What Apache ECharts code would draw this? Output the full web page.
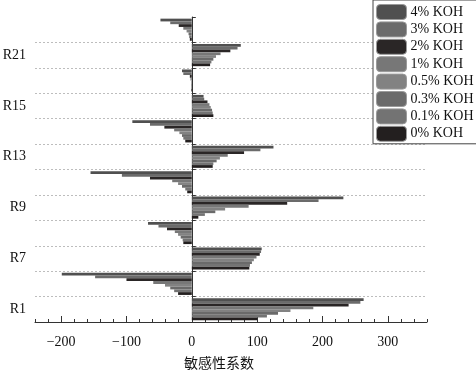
<!DOCTYPE html>
<html><head><meta charset="utf-8">
<script src="https://cdn.jsdelivr.net/npm/echarts@6/dist/echarts.min.js"></script>
<style>html,body{margin:0;padding:0;background:#fff}#c{width:476px;height:370px}</style>
</head><body><div id="c"></div>
<script>
// categories from bottom to top
var categories = ['R1','R2','R7','R8','R9','R10','R13','R14','R15','R16','R21','R22'];
var seriesNames = ['4% KOH','3% KOH','2% KOH','1% KOH','0.5% KOH','0.3% KOH','0.1% KOH','0% KOH'];
var colors = ['#505050','#6b6b6b','#2a2626','#777777','#828282','#6a6a6a','#737373','#231f1f'];
// values per category, in series order (4% ... 0%)
var vR1  = [263, 258, 240, 186, 151, 132, 115, 100];
var vR2  = [-199, -148, -100, -59, -41, -33, -27, -21];
var vR7  = [107, 106, 104, 99, 95, 92, 89, 88];
var vR8  = [-67, -51, -38, -26, -21, -17, -14, -13];
var vR9  = [232, 194, 146, 87, 51, 36, 20, 10];
var vR10 = [-155, -107, -64, -30, -21, -15, -10, -7];
var vR13 = [125, 105, 80, 55, 43, 38, 33, 32];
var vR14 = [-91, -64, -42, -27, -19, -15, -13, -10];
var vR15 = [18, 19, 24, 27, 29, 31, 32, 33];
var vR16 = [-15, -13, -3, -2, -1, -1, -1, -1];
var vR21 = [75, 70, 59, 44, 37, 33, 30, 28];
var vR22 = [-48, -33, -20, -13, -8, -5, -4, -3];
var xTickLabels = [-200, -100, 0, 100, 200, 300];

var table = [vR1, vR2, vR7, vR8, vR9, vR10, vR13, vR14, vR15, vR16, vR21, vR22];
var serif = '"Liberation Serif","Times New Roman",serif';

var series = seriesNames.map(function (name, s) {
  return {
    name: name, type: 'bar', xAxisIndex: 0, yAxisIndex: 0,
    data: table.map(function (row) { return row[s]; }),
    barGap: '0%', barCategoryGap: '13%',
    itemStyle: { color: colors[s] },
    emphasis: { disabled: true }, animation: false
  };
});

var chart = echarts.init(document.getElementById('c'), null, { renderer: 'canvas' });
chart.setOption({
  animation: false,
  grid: { left: 35, right: 49, top: 17, bottom: 48, containLabel: false, outerBoundsMode: 'none' },
  legend: {
    data: seriesNames, orient: 'vertical', left: 373, top: 0,
    itemWidth: 30, itemHeight: 15, itemGap: 1.4,
    padding: [4, 4, 2, 3],
    borderColor: '#444', borderWidth: 1, backgroundColor: '#fff',
    textStyle: { fontFamily: serif, fontSize: 14, lineHeight: 15, color: '#111', padding: [0, 0, 0, -1] },
    itemStyle: { borderColor: '#9a9a9a', borderWidth: 1 },
    selectedMode: false
  },
  xAxis: [{
    type: 'value', position: 'bottom', min: -240, max: 360, interval: 20,
    axisLine: { show: true, onZero: false, lineStyle: { color: '#333', width: 1 } },
    axisTick: { show: true, inside: true, length: 3, lineStyle: { color: '#333' } },
    axisLabel: {
      fontFamily: serif, fontSize: 14, color: '#111', margin: 13,
      formatter: function (v) { return (xTickLabels.indexOf(v) >= 0) ? String(v).replace('-', '\u2212') : ''; }
    },
    splitLine: { show: false },
    name: '敏感性系数', nameLocation: 'middle', nameGap: 34,
    nameTextStyle: { fontFamily: '"Noto Sans CJK SC"', fontSize: 14, color: '#111', padding: [0, 24, 0, 0] }
  }, {
    type: 'value', position: 'bottom', min: -240, max: 360,
    axisLine: { show: false },
    axisTick: { show: true, inside: true, length: 6, customValues: xTickLabels, lineStyle: { color: '#333' } },
    axisLabel: { show: false },
    splitLine: { show: false }
  }],
  yAxis: [{
    type: 'category', data: categories, position: 'left',
    axisLine: { show: false, onZero: false },
    axisTick: { show: false },
    axisLabel: { interval: 1, fontFamily: serif, fontSize: 14, color: '#111', margin: 9 },
    splitLine: { show: true, interval: 0, showMinLine: false, showMaxLine: false,
      lineStyle: { color: '#bdbdbd', type: [2, 2], width: 1 } }
  }, {
    type: 'category', data: categories, position: 'left',
    axisLine: { show: true, onZero: true, lineStyle: { color: '#333', width: 1 } },
    axisTick: { show: true, inside: true, length: 4, interval: 0, lineStyle: { color: '#333' } },
    axisLabel: { show: false },
    splitLine: { show: false }
  }],
  series: series
});
</script></body></html>
